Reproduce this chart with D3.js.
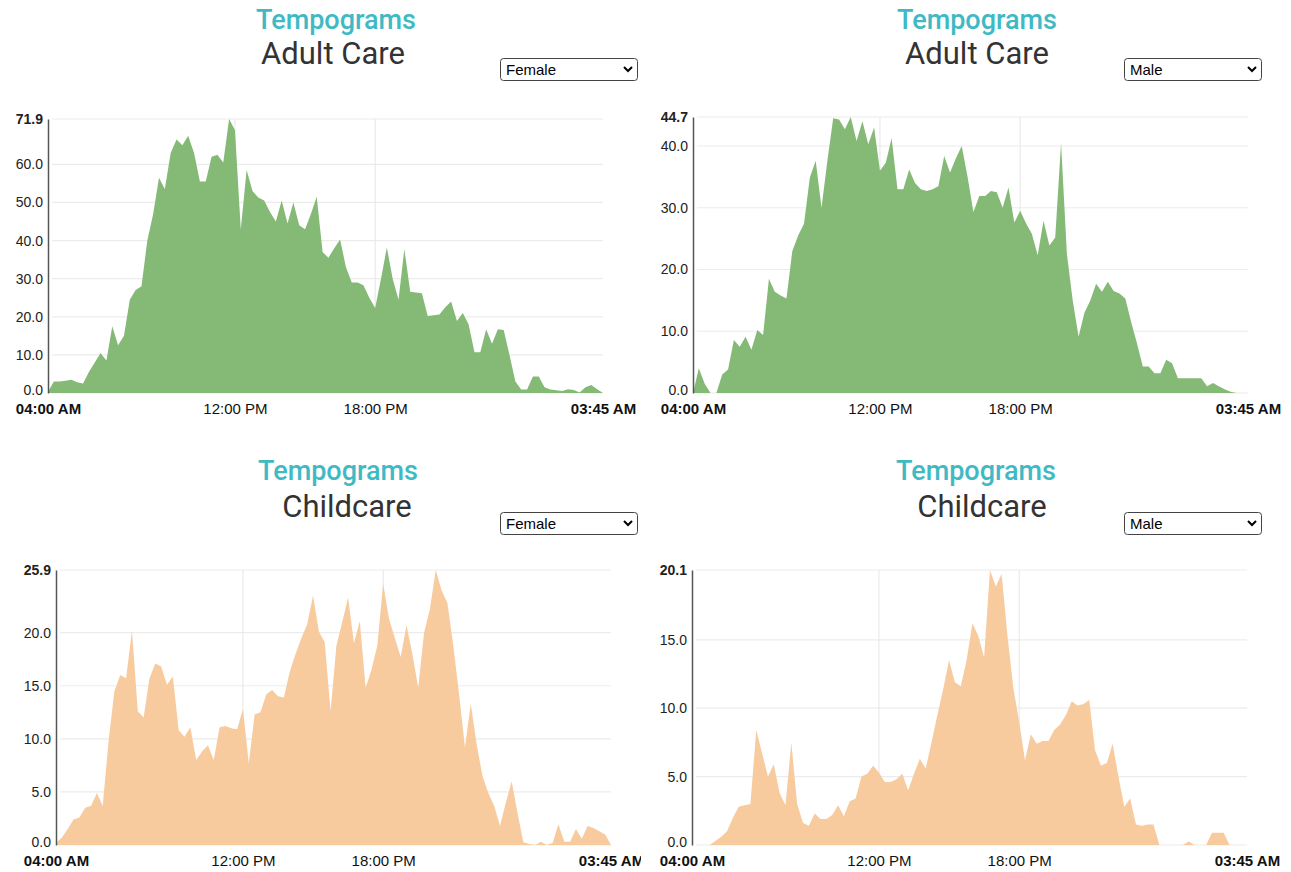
<!DOCTYPE html>
<html><head><meta charset="utf-8">
<script src="https://cdn.jsdelivr.net/npm/d3@7"></script>
<style>body{margin:0;background:#fff;overflow:hidden}</style>
</head><body><svg id="c" width="1291" height="872"></svg>
<script>
// 96 quarter-hour slots from 04:00 to 03:45
const timeSlots = d3.range(96).map(i => {
  const m = (4 * 60 + i * 15) % 1440;
  return String(Math.floor(m / 60)).padStart(2, "0") + ":" + String(m % 60).padStart(2, "0");
});
const xTickIndex = [0, 32, 56, 95];
const xTickLabels = ["04:00 AM", "12:00 PM", "18:00 PM", "03:45 AM"];

const adultFemale = [0.3,3.0,3.0,3.2,3.5,2.8,2.5,5.5,8.0,10.5,8.5,17.5,12.5,15.0,24.5,27.0,28.0,40.0,47.0,56.5,
  53.5,63.0,66.5,65.0,67.5,63.0,55.5,55.5,62.0,62.5,60.5,71.9,69.0,43.0,58.5,53.0,51.3,50.5,47.5,45.0,
  50.5,44.5,50.0,44.0,43.0,47.0,51.5,37.0,35.5,38.0,40.3,33.0,29.0,29.0,28.3,25.0,22.3,30.0,38.2,30.0,
  24.5,37.8,26.6,26.4,26.2,20.2,20.4,20.6,22.5,24.0,18.9,21.0,18.0,10.7,10.7,16.7,12.9,16.7,16.5,10.0,
  3.0,0.9,0.9,4.3,4.3,1.5,0.9,0.7,0.5,1.0,0.8,0.1,1.5,2.1,1.0,0.0];
const adultMale = [0.0,4.0,1.5,0.0,0.0,3.0,3.8,8.6,7.5,9.1,7.0,10.2,9.4,18.5,16.4,15.8,15.3,23.0,25.5,27.4,
  34.9,37.6,30.0,37.6,44.5,44.3,42.7,44.7,40.8,44.0,40.3,43.0,36.0,37.3,41.3,33.0,33.0,36.2,34.0,33.0,
  32.7,33.0,33.5,38.4,35.7,38.0,40.0,35.0,29.3,31.9,31.9,32.7,32.5,30.0,33.3,27.6,29.5,27.5,25.8,22.3,
  27.9,23.9,25.2,40.5,22.5,15.0,9.1,13.0,15.0,17.7,16.4,18.0,16.5,16.1,15.3,11.5,8.0,4.3,4.3,3.2,
  3.2,5.4,4.8,2.4,2.4,2.4,2.4,2.4,1.1,1.6,1.1,0.6,0.2,0.0,0.0,0.0];
const childFemale = [0.2,0.7,1.5,2.4,2.6,3.5,3.7,4.9,3.7,9.8,14.5,16.0,15.7,20.2,12.6,12.0,15.7,17.1,16.8,15.1,
  15.9,10.8,10.2,11.1,8.0,8.8,9.4,8.0,11.1,11.2,11.0,10.9,12.8,7.7,12.3,12.5,14.2,14.6,14.0,13.9,
  16.3,18.0,19.5,20.8,23.5,20.1,19.1,12.6,18.8,21.0,23.3,19.0,21.1,14.8,16.5,18.8,24.6,21.3,19.5,17.7,
  20.7,18.0,14.8,20.0,22.2,25.9,24.0,22.8,18.8,14.2,9.2,13.3,9.5,6.5,4.9,3.7,1.8,4.0,6.0,3.0,
  0.25,0.1,0.0,0.3,0.0,0.2,1.95,0.3,0.3,1.5,0.6,1.8,1.6,1.3,1.0,0.0];
const childMale = [0,0,0,0,0.3,0.6,1.0,2.0,2.8,2.9,3.0,8.4,6.7,5.0,5.9,3.8,2.9,7.5,3.0,1.6,
  1.4,2.3,1.9,1.9,2.2,2.9,2.1,3.2,3.4,5.0,5.2,5.8,5.3,4.6,4.6,4.8,5.2,4.0,5.2,6.3,
  5.6,7.5,9.5,11.4,13.5,11.9,11.6,13.5,16.2,15.3,13.7,20.1,18.9,19.8,15.3,11.5,9.0,6.2,8.1,7.4,
  7.6,7.6,8.4,8.8,9.5,10.5,10.2,10.3,10.6,6.9,5.8,6.0,7.4,5.0,2.8,3.4,1.5,1.4,1.5,1.5,
  0,0,0,0,0,0.25,0,0,0,0.9,0.9,0.9,0,0,0,0];

const adultTicks = [0, 10, 20, 30, 40, 50, 60];
const adultMaleTicks = [0, 10, 20, 30, 40];
const childFemaleTicks = [0, 5, 10, 15, 20];
const childMaleTicks = [0, 5, 10, 15];

const panels = [
  {sub:"Adult Care", sex:"Female", data:adultFemale, ticks:adultTicks, color:"#85ba76",
   left:48, right:603, top:119, bottom:393, tCx:336, sCx:333, tY:29, sY:64, dx:500, dy:58, clip:645},
  {sub:"Adult Care", sex:"Male", data:adultMale, ticks:adultMaleTicks, color:"#85ba76",
   left:693, right:1248, top:117, bottom:393, tCx:977, sCx:977, tY:29, sY:64, dx:1124, dy:58, clip:1291},
  {sub:"Childcare", sex:"Female", data:childFemale, ticks:childFemaleTicks, color:"#f8cb9f",
   left:56, right:611, top:570, bottom:845, tCx:338, sCx:347, tY:480, sY:517, dx:500, dy:512, clip:641},
  {sub:"Childcare", sex:"Male", data:childMale, ticks:childMaleTicks, color:"#f8cb9f",
   left:692, right:1247, top:570, bottom:845, tCx:976, sCx:982, tY:480, sY:517, dx:1124, dy:512, clip:1291}
];

const svg = d3.select("#c");
const FONT = "'Liberation Sans', Arial, Helvetica, sans-serif";

panels.forEach((p, k) => {
  const x0 = k % 2 === 0 ? 0 : 645;
  svg.append("clipPath").attr("id", "clip" + k)
    .append("rect").attr("x", x0).attr("y", 0).attr("width", p.clip - x0).attr("height", 872);
  const g = svg.append("g").attr("clip-path", `url(#clip${k})`);

  // titles
  g.append("text").attr("x", p.tCx).attr("y", p.tY).attr("text-anchor", "middle")
    .attr("font-family", "Roboto, sans-serif").attr("font-weight", 500).attr("font-size", 27)
    .attr("fill", "#3fbac5").text("Tempograms");
  g.append("text").attr("x", p.sCx).attr("y", p.sY).attr("text-anchor", "middle")
    .attr("font-family", "Roboto, sans-serif").attr("font-weight", 400).attr("font-size", 31)
    .attr("fill", "#333").text(p.sub);

  // dropdown
  const dd = g.append("g").attr("transform", `translate(${p.dx},${p.dy})`);
  dd.append("rect").attr("x", 0.5).attr("y", 0.5).attr("width", 137).attr("height", 22).attr("rx", 3)
    .attr("fill", "#fff").attr("stroke", "#444").attr("stroke-width", 1);
  dd.append("text").attr("x", 6).attr("y", 16.5).attr("font-family", FONT).attr("font-size", 15)
    .attr("fill", "#000").text(p.sex);
  dd.append("path").attr("d", "M124,9 L128,13 L132,9").attr("fill", "none")
    .attr("stroke", "#000").attr("stroke-width", 2);

  const max = d3.max(p.data);
  const x = d3.scaleLinear().domain([0, timeSlots.length - 1]).range([p.left, p.right]);
  const y = d3.scaleLinear().domain([0, max]).range([p.bottom, p.top]);
  const yTickVals = p.ticks.concat([max]);

  // gridlines
  g.append("g").selectAll("line").data(yTickVals).join("line")
    .attr("x1", p.left + 4).attr("x2", p.right).attr("y1", d => y(d)).attr("y2", d => y(d))
    .attr("stroke", "#ececec").attr("stroke-width", 1.2);
  g.append("g").selectAll("line").data([32, 56]).join("line")
    .attr("x1", d => x(d)).attr("x2", d => x(d)).attr("y1", p.top).attr("y2", p.bottom)
    .attr("stroke", "#e6e6e6").attr("stroke-width", 1);

  // area
  const area = d3.area().x((d, i) => x(i)).y0(y(0)).y1(d => y(d)).curve(d3.curveLinear);
  g.append("path").datum(p.data).attr("d", area).attr("fill", p.color);

  // y axis
  const yAxis = d3.axisLeft(y).tickValues(yTickVals).tickSize(0).tickPadding(5)
    .tickFormat(d3.format(".1f"));
  const ya = g.append("g").attr("transform", `translate(${p.left},0)`).call(yAxis);
  ya.select(".domain").attr("stroke", "#555").attr("stroke-width", 1.5);
  ya.selectAll("text").attr("font-family", FONT).attr("font-size", 14).attr("fill", "#222")
    .attr("font-weight", d => d === max ? "bold" : "normal")
    .attr("dy", d => d === 0 ? "0.1em" : "0.32em");

  // x axis
  const xAxis = d3.axisBottom(x).tickValues(xTickIndex).tickSize(0).tickPadding(10)
    .tickFormat((d, i) => xTickLabels[i]);
  const xa = g.append("g").attr("transform", `translate(0,${p.bottom})`).call(xAxis);
  xa.select(".domain").remove();
  xa.selectAll("text").attr("font-family", FONT).attr("font-size", 15).attr("fill", "#111")
    .attr("font-weight", (d, i) => (i === 0 || i === xTickIndex.length - 1) ? "bold" : "normal");
});
</script></body></html>
